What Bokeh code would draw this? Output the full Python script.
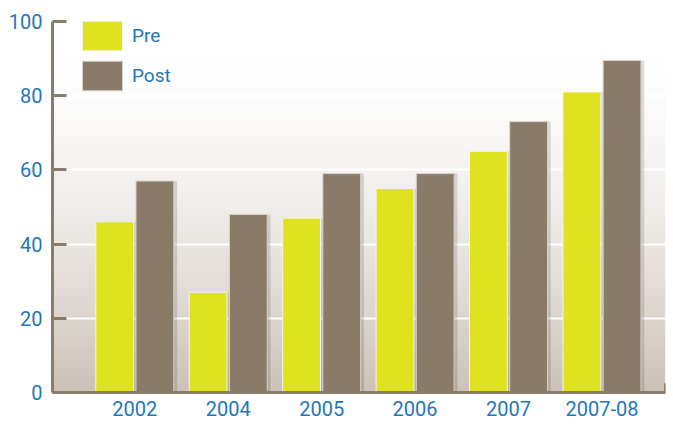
import numpy as np
from bokeh.plotting import figure
from bokeh.models import Range1d, FixedTicker, ColumnDataSource, Legend, LegendItem
from bokeh.transform import dodge
from bokeh.embed import file_html
from bokeh.resources import INLINE

categories = ["2002", "2004", "2005", "2006", "2007", "2007-08"]
pre = [46, 27, 47, 55, 65, 81]
post = [57, 48, 59, 59, 73, 89.5]
y_ticks = [0, 20, 40, 60, 80, 100]

PRE = "#dfe21e"
POST = "#8a7a68"
AXIS = "#8b7b6b"
BLUE = "#1f77b8"
FONT = "Roboto"

idx = list(range(len(categories)))
src = ColumnDataSource(dict(i=idx, pre=pre, post=post))

x_range = Range1d(-0.881, 5.68)
p = figure(width=668, height=420, output_backend="svg", toolbar_location=None,
           x_range=x_range, y_range=Range1d(0, 100),
           min_border_left=52, min_border_right=3, min_border_top=21, min_border_bottom=28)
p.outline_line_color = None
p.background_fill_color = "white"
p.border_fill_color = "white"

# gradient background (style only)
n = 200
mid = (np.arange(n) + 0.5) / n * 100
f = np.clip(1 - mid / 95, 0, 1) ** 1.6
base = np.array([203, 193, 183])
img = np.empty((n, 1), dtype=np.uint32)
view = img.view(dtype=np.uint8).reshape((n, 1, 4))
for k in range(3):
    view[:, 0, k] = np.round(255 - (255 - base[k]) * f).astype(np.uint8)
view[:, 0, 3] = 255
p.image_rgba(image=[img], x=x_range.start, y=0, dw=x_range.end - x_range.start, dh=100,
             level="image")

# shadows
sh = 0.035
p.vbar(x=dodge("i", -0.215 + sh, range=x_range), top="pre", width=0.405, source=src,
       fill_color="black", fill_alpha=0.13, line_color=None)
p.vbar(x=dodge("i", 0.215 + sh, range=x_range), top="post", width=0.405, source=src,
       fill_color="black", fill_alpha=0.13, line_color=None)

r_pre = p.vbar(x=dodge("i", -0.215, range=x_range), top="pre", width=0.405, source=src,
               fill_color=PRE, line_color="#f4f4ec", line_width=1)
r_post = p.vbar(x=dodge("i", 0.215, range=x_range), top="post", width=0.405, source=src,
                fill_color=POST, line_color="#d8d4cc", line_width=1)

# axes
p.xgrid.grid_line_color = None
p.ygrid.grid_line_color = "white"
p.ygrid.grid_line_width = 2
p.yaxis.ticker = FixedTicker(ticks=y_ticks)
p.xaxis.ticker = FixedTicker(ticks=idx)
p.xaxis.major_label_overrides = {i: c for i, c in zip(idx, categories)}

for ax in (p.xaxis, p.yaxis):
    ax.axis_line_color = AXIS
    ax.axis_line_width = 3
    ax.major_label_text_color = BLUE
    ax.major_label_text_font = FONT
    ax.major_label_text_font_size = "20px"
    ax.minor_tick_line_color = None
p.yaxis.major_tick_in = 14
p.yaxis.major_tick_out = 0
p.yaxis.major_tick_line_color = AXIS
p.yaxis.major_tick_line_width = 3
p.yaxis.major_label_standoff = 10
p.xaxis.major_tick_line_color = None
p.xaxis.major_label_standoff = 2

# small end tick on x axis
p.segment(x0=[x_range.end], x1=[x_range.end], y0=[0], y1=[2.5], line_color=AXIS, line_width=3)

legend = Legend(items=[LegendItem(label="Pre", renderers=[r_pre]),
                       LegendItem(label="Post", renderers=[r_post])],
                location=(25, 298), glyph_width=50, glyph_height=37,
                spacing=3, padding=0, margin=0, label_standoff=5, border_line_color=None,
                background_fill_alpha=0, label_text_color=BLUE, label_text_font=FONT,
                label_text_font_size="19px")
p.add_layout(legend)

open("out.html", "w").write(file_html(p, INLINE))
